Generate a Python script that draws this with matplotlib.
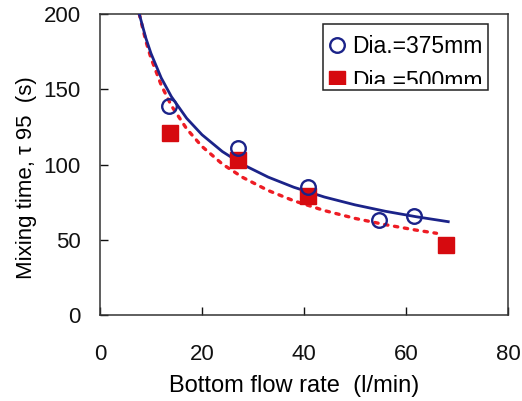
import matplotlib.pyplot as plt
from matplotlib.patches import Rectangle

plt.rcParams['font.family'] = ['Liberation Sans', 'DejaVu Sans']

# measured mixing times
q_375 = [13.5, 27.0, 40.8, 54.8, 61.5]
t_375 = [139, 111, 85, 63, 66]
q_500 = [13.7, 27.1, 40.8, 67.8]
t_500 = [121, 103, 79, 46.5]

# fitted curves
fit_q_375 = [7.7, 9, 10, 12, 14, 17, 20, 24, 28, 33, 38, 44, 50, 56, 62, 68.3]
fit_t_375 = [200, 183.9, 173.8, 157.6, 145.1, 130.7, 119.8, 108.6, 100.0,
             91.6, 84.9, 78.4, 73.2, 68.9, 65.3, 62.0]
fit_q_500 = [7.7, 9, 10, 12, 14, 17, 20, 24, 28, 33, 38, 44, 50, 56, 62, 66]
fit_t_500 = [200, 181.9, 170.7, 152.8, 139.1, 123.7, 112.0, 100.3, 91.4,
             82.7, 75.9, 69.4, 64.2, 60.0, 56.4, 54.3]

x_ticks = [0, 20, 40, 60, 80]
y_ticks = [0, 50, 100, 150, 200]

BLUE = '#1b2389'
RED_LINE = '#ee1c24'
RED_MARK = '#d60a0f'

fig = plt.figure(figsize=(5.22, 4.01), dpi=100)
ax = fig.add_axes([0.1916, 0.2145, 0.7814, 0.7505])

ax.plot(fit_q_500, fit_t_500, color=RED_LINE, lw=2.4, linestyle=(0, (1, 2.0)),
        dash_capstyle='round', zorder=2)
ax.plot(fit_q_375, fit_t_375, color=BLUE, lw=2.0, zorder=3)
ax.plot(q_500, t_500, 's', color=RED_MARK, ms=11.5, mec=RED_MARK, zorder=4)
ax.plot(q_375, t_375, 'o', mfc='none', mec=BLUE, mew=1.7, ms=10.5, zorder=5)

ax.set_xlim(0, 80)
ax.set_ylim(0, 200)
ax.set_xticks(x_ticks)
ax.set_yticks(y_ticks)
ax.tick_params(direction='in', length=6, width=1, labelsize=16, colors='#111111')
ax.tick_params(axis='x', pad=21)
ax.tick_params(axis='y', pad=14)
for s in ax.spines.values():
    s.set_linewidth(1.1)
    s.set_color('#333333')

ax.set_xlabel('Bottom flow rate  (l/min)', fontsize=17, labelpad=9)
ax.xaxis.set_label_coords(0.475, -0.2)
ax.set_ylabel('Mixing time, τ 95  (s)', fontsize=16)
ax.yaxis.set_label_coords(-0.155, 0.457)

# legend box, lower entry cut off by the frame
box = Rectangle((0.5466, 0.7475), 0.4044, 0.2195, transform=ax.transAxes,
                fill=True, fc='white', ec='#222222', lw=1.1, zorder=6)
ax.add_patch(box)
clip = Rectangle((0.5466, 0.769), 0.4044, 0.2, transform=ax.transAxes,
                 fill=False, visible=False)
ax.add_patch(clip)

ax.plot([0.58], [0.897], 'o', mfc='none', mec=BLUE, mew=1.7, ms=10.5,
        transform=ax.transAxes, zorder=7, clip_on=False)
ax.text(0.617, 0.893, 'Dia.=375mm', transform=ax.transAxes, fontsize=16.5,
        va='center', ha='left', zorder=7)
m2, = ax.plot([0.58], [0.783], 's', color=RED_MARK, ms=12,
              transform=ax.transAxes, zorder=7)
t2 = ax.text(0.617, 0.776, 'Dia.=500mm', transform=ax.transAxes, fontsize=16.5,
             va='center', ha='left', zorder=7)
for a in (m2, t2):
    a.set_clip_on(True)
    a.set_clip_path(clip)

fig.savefig('out.png', dpi=100)
